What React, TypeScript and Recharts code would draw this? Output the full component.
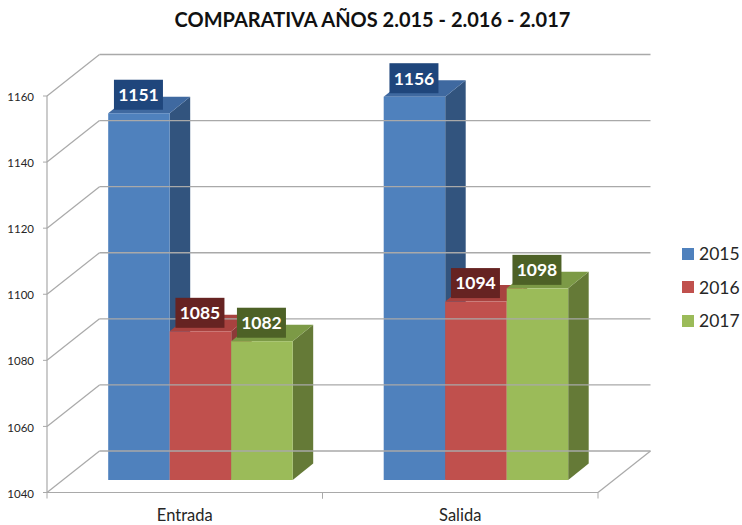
import { BarChart, Bar, XAxis, YAxis, Legend, LabelList } from 'recharts'

const categories = ['Entrada', 'Salida']
const values2015 = [1151, 1156]
const values2016 = [1085, 1094]
const values2017 = [1082, 1098]
const yTicks = [1040, 1060, 1080, 1100, 1120, 1140, 1160]

const chartData = categories.map((name, i) => ({
  name,
  y2015: values2015[i],
  y2016: values2016[i],
  y2017: values2017[i],
}))

const FONT = 'Lato, sans-serif'
const GRID = '#a9a9a9'
const PLOT_LEFT = 47
const PLOT_RIGHT = 598
const PLOT_BOTTOM = 492.5
const WALL_DX = 52.5
const WALL_DY = -41.5
const BAND = (PLOT_RIGHT - PLOT_LEFT) / categories.length

// bars stand in the middle of the floor, not on the front edge
const BAR_DX = 15.2
const BAR_DY = -12.5
const DEPTH_DX = 20.5
const DEPTH_DY = -16.5

function make3DBar(side: string, top: string) {
  return function Bar3D(props: any) {
    const { x, y, width, height, fill } = props
    const l = x + BAR_DX
    const r = l + width
    const t = y + BAR_DY
    const b = t + height
    return (
      <g>
        <polygon
          points={`${r},${t} ${r + DEPTH_DX},${t + DEPTH_DY} ${r + DEPTH_DX},${b + DEPTH_DY} ${r},${b}`}
          fill={side}
        />
        <polygon
          points={`${l},${t} ${l + DEPTH_DX},${t + DEPTH_DY} ${r + DEPTH_DX},${t + DEPTH_DY} ${r},${t}`}
          fill={top}
        />
        <rect x={l} y={t} width={width} height={height} fill={fill} />
      </g>
    )
  }
}

function makeValueBox(color: string) {
  return function ValueBox(props: any) {
    const { x, y, width, value } = props
    const cx = x + BAR_DX + width / 2 - 0.5
    const top = y + BAR_DY - 33.5
    return (
      <g>
        <rect x={cx - 24.5} y={top} width={49} height={30} fill={color} />
        <text
          x={cx}
          y={top + 15}
          dy="0.36em"
          textAnchor="middle"
          fontFamily={FONT}
          fontWeight={700}
          fontSize={17.5}
          fill="#fff"
        >
          {value}
        </text>
      </g>
    )
  }
}

function YTick(props: any) {
  const { y, payload, index } = props
  const backX = PLOT_LEFT + WALL_DX
  const backY = y + WALL_DY
  return (
    <g>
      <line x1={PLOT_LEFT} y1={y} x2={backX} y2={backY} stroke={GRID} strokeWidth={1.2} />
      <line x1={backX} y1={backY} x2={PLOT_RIGHT + WALL_DX} y2={backY} stroke={GRID} strokeWidth={1.4} />
      <line x1={PLOT_LEFT - 4} y1={y} x2={PLOT_LEFT} y2={y} stroke={GRID} />
      {index === 0 && (
        <line x1={PLOT_RIGHT} y1={y} x2={PLOT_RIGHT + WALL_DX} y2={backY} stroke={GRID} strokeWidth={1.2} />
      )}
      <text x={34} y={y + 1} dy="0.36em" textAnchor="end" fontFamily={FONT} fontSize={11.5} fill="#262626">
        {payload.value}
      </text>
    </g>
  )
}

function XTick(props: any) {
  const { x, payload } = props
  return (
    <g>
      <line x1={x - BAND / 2} y1={PLOT_BOTTOM} x2={x - BAND / 2} y2={PLOT_BOTTOM + 6} stroke={GRID} />
      <line x1={x + BAND / 2} y1={PLOT_BOTTOM} x2={x + BAND / 2} y2={PLOT_BOTTOM + 6} stroke={GRID} />
      <text x={x} y={515.5} dy="0.36em" textAnchor="middle" fontFamily={FONT} fontSize={16.5} fill="#262626">
        {payload.value}
      </text>
    </g>
  )
}

function LegendList(props: any) {
  return (
    <div>
      {props.payload.map((item: any) => (
        <div key={item.value} style={{ display: 'flex', alignItems: 'center', height: 33.5 }}>
          <span style={{ width: 12, height: 12, background: item.color, marginRight: 5 }} />
          <span style={{ fontFamily: FONT, fontSize: 17.5, color: '#262626' }}>{item.value}</span>
        </div>
      ))}
    </div>
  )
}

export default function App() {
  return (
    <div style={{ position: 'absolute', left: 0, top: 0, background: '#fff' }}>
      <BarChart
        width={742}
        height={525}
        data={chartData}
        barGap={0}
        barSize={61.5}
        margin={{ top: 96, right: 144, bottom: 0, left: 0 }}
      >
        <text
          x={372.5}
          y={20}
          dy="0.36em"
          textAnchor="middle"
          fontFamily={FONT}
          fontWeight={700}
          fontSize={20}
          fill="#111"
        >
          COMPARATIVA AÑOS 2.015 - 2.016 - 2.017
        </text>
        <XAxis
          dataKey="name"
          height={32.5}
          axisLine={{ stroke: GRID, strokeWidth: 1.2 }}
          tickLine={false}
          tick={<XTick />}
        />
        <YAxis
          width={47}
          domain={[1040, 1160]}
          ticks={yTicks}
          interval={0}
          axisLine={{ stroke: GRID, strokeWidth: 1.2 }}
          tickLine={false}
          tick={<YTick />}
        />
        <Legend
          layout="vertical"
          align="center"
          verticalAlign="middle"
          wrapperStyle={{ left: 682, top: 237, width: 60 }}
          content={<LegendList />}
        />
        <Bar dataKey="y2015" name="2015" fill="#4f81bd" isAnimationActive={false} shape={make3DBar('#32547e', '#3f69a0')}>
          <LabelList dataKey="y2015" content={makeValueBox('#1f467c')} />
        </Bar>
        <Bar dataKey="y2016" name="2016" fill="#c0504d" isAnimationActive={false} shape={make3DBar('#8c3a38', '#a8423f')}>
          <LabelList dataKey="y2016" content={makeValueBox('#662322')} />
        </Bar>
        <Bar dataKey="y2017" name="2017" fill="#9bbb59" isAnimationActive={false} shape={make3DBar('#657a37', '#7c9a46')}>
          <LabelList dataKey="y2017" content={makeValueBox('#4d6126')} />
        </Bar>
      </BarChart>
    </div>
  )
}
